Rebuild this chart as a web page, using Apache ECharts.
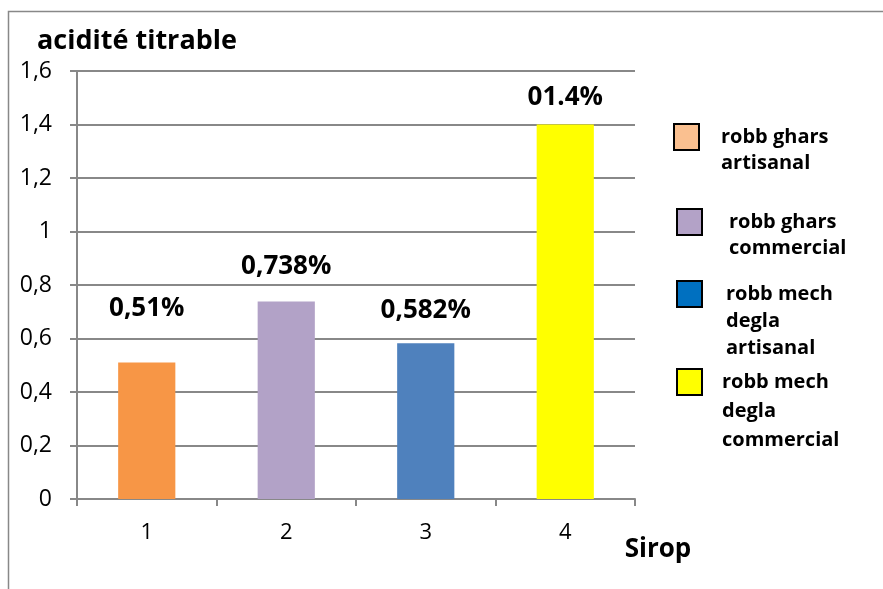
<!DOCTYPE html>
<html>
<head>
<meta charset="utf-8">
<script src="https://cdn.jsdelivr.net/npm/echarts@6/dist/echarts.min.js"></script>
<style>
  html, body { margin: 0; padding: 0; background: #fff; }
  #chart { width: 883px; height: 589px; }
</style>
</head>
<body>
<div id="chart"></div>
<script>
// Titratable acidity per syrup sample
const categories = ['1', '2', '3', '4'];
const seriesNames = [
  'robb ghars\nartisanal',
  'robb ghars\ncommercial',
  'robb mech\ndegla\nartisanal',
  'robb mech\ndegla\ncommercial'
];
const values = [0.51, 0.738, 0.582, 1.4];
const valueLabels = ['0,51%', '0,738%', '0,582%', '01.4%'];
const yTicks = [0, 0.2, 0.4, 0.6, 0.8, 1, 1.2, 1.4, 1.6];

// styling
const barColors = ['#F79646', '#B2A2C7', '#4F81BD', '#FFFF00'];
const legendColors = ['#FAC090', '#B3A2C7', '#0070C0', '#FFFF00'];
const labelGaps = [41, 22, 20, 14];
const legendPos = [
  { left: 673, lineHeight: 26, iconMid: 137, pad: 22 },
  { left: 676, lineHeight: 26, iconMid: 222, pad: 27 },
  { left: 676, lineHeight: 27, iconMid: 294, pad: 24 },
  { left: 676, lineHeight: 29, iconMid: 382, pad: 20 }
];
const FONT = '"Open Sans", "Noto Sans", sans-serif';

const chart = echarts.init(document.getElementById('chart'), null, { renderer: 'canvas' });

const series = seriesNames.map((name, i) => ({
  name: name,
  type: 'bar',
  barWidth: '41%',
  barGap: '-100%',
  data: categories.map((c, j) => j === i ? values[j] : null),
  itemStyle: { color: barColors[i] },
  label: {
    show: true,
    position: 'top',
    distance: labelGaps[i],
    formatter: () => valueLabels[i],
    fontFamily: FONT,
    fontWeight: 'bold',
    fontSize: 26,
    color: '#000'
  }
}));

// one legend block per series; leading blank lines keep the icon beside the first text line
const legends = seriesNames.map((name, i) => {
  const n = name.split('\n').length;
  const lh = legendPos[i].lineHeight;
  return {
    data: [{ name: name, itemStyle: { color: legendColors[i], borderColor: '#000', borderWidth: 2 } }],
    orient: 'vertical',
    left: legendPos[i].left,
    top: legendPos[i].iconMid - ((2 * n - 1) * lh) / 2,
    padding: 0,
    icon: 'rect',
    itemWidth: 25,
    itemHeight: 26,
    itemGap: 0,
    selectedMode: false,
    formatter: nm => '\n'.repeat(n - 1) + nm,
    textStyle: {
      fontFamily: FONT,
      fontWeight: 'bold',
      fontSize: 20,
      color: '#000',
      lineHeight: lh,
      padding: [0, 0, 0, legendPos[i].pad - 5]
    }
  };
});

chart.setOption({
  animation: false,
  backgroundColor: '#fff',
  title: {
    text: 'acidité titrable',
    left: 37,
    top: 28,
    padding: 0,
    textStyle: { fontFamily: FONT, fontWeight: 'bold', fontSize: 27, color: '#000' }
  },
  legend: legends,
  grid: { left: 77, right: 248, top: 71, bottom: 90, containLabel: false },
  xAxis: {
    type: 'category',
    data: categories,
    name: 'Sirop',
    nameLocation: 'end',
    nameGap: 0,
    nameTextStyle: {
      fontFamily: FONT, fontWeight: 'bold', fontSize: 26, color: '#000',
      align: 'center', verticalAlign: 'top', padding: [38, 0, 0, 46]
    },
    axisLine: { lineStyle: { color: '#888', width: 2 } },
    axisTick: { show: true, alignWithLabel: false, length: 7, lineStyle: { color: '#888', width: 2 } },
    axisLabel: { fontFamily: FONT, fontSize: 22, color: '#000', margin: 23 }
  },
  yAxis: {
    type: 'value',
    min: yTicks[0],
    max: yTicks[yTicks.length - 1],
    interval: 0.2,
    axisLine: { show: true, lineStyle: { color: '#888', width: 2 } },
    axisTick: { show: true, length: 7, lineStyle: { color: '#888', width: 2 } },
    splitLine: { show: true, lineStyle: { color: '#888', width: 2 } },
    axisLabel: {
      fontFamily: FONT, fontSize: 23, color: '#000', margin: 25,
      formatter: v => String(Math.round(v * 10) / 10).replace('.', ',')
    }
  },
  graphic: [{
    type: 'rect',
    shape: { x: 8.5, y: 11.5, width: 900, height: 600 },
    style: { fill: 'none', stroke: '#888', lineWidth: 1.5 },
    silent: true,
    z: -1
  }],
  series: series
});
</script>
</body>
</html>
